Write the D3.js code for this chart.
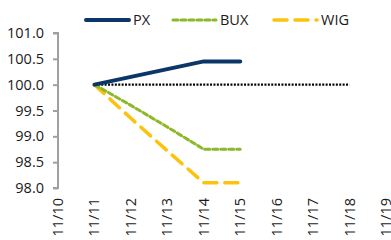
<!DOCTYPE html>
<html>
<head>
<meta charset="utf-8">
<script src="https://d3js.org/d3.v7.min.js"></script>
<style>
  body { margin: 0; background: #fff; }
  text { font-family: "Open Sans", "Liberation Sans", sans-serif; fill: #1a1a1a; }
</style>
</head>
<body>
<div id="chart"></div>
<script>
var dates = ["11/10", "11/11", "11/12", "11/13", "11/14", "11/15", "11/16", "11/17", "11/18", "11/19"];
var yTicks = [98.0, 98.5, 99.0, 99.5, 100.0, 100.5, 101.0];

var pxDates = ["11/11", "11/12", "11/13", "11/14", "11/15"];
var pxValues = [100.0, 100.15, 100.3, 100.45, 100.45];
var buxValues = [100.0, 99.6, 99.18, 98.75, 98.75];
var wigValues = [100.0, 99.35, 98.72, 98.1, 98.1];
var baseDates = ["11/11", "11/12", "11/13", "11/14", "11/15", "11/16", "11/17", "11/18"];
var baseValues = [100, 100, 100, 100, 100, 100, 100, 100];

var width = 391, height = 240;
var svg = d3.select('#chart').append('svg')
    .attr('width', width)
    .attr('height', height);

var x = d3.scalePoint().domain(dates).range([58, 386]);
var y = d3.scaleLinear().domain([98, 101]).range([188, 33]);

// y axis
var yAxis = svg.append('g')
    .attr('transform', 'translate(' + x("11/10") + ',0)')
    .call(d3.axisLeft(y).tickValues(yTicks).tickSize(5).tickPadding(9)
        .tickFormat(d3.format('.1f')));
yAxis.selectAll('.domain, line').attr('stroke', '#a0a0a0').attr('stroke-width', 2);
yAxis.select('.domain').attr('d', 'M-5,' + y(101) + 'H0V' + y(98) + 'H-5');
yAxis.selectAll('text').style('font-size', '14.5px').attr('fill', '#1a1a1a');

// x labels
svg.append('g').selectAll('text')
    .data(dates)
  .enter().append('text')
    .attr('transform', function(d) { return 'translate(' + (x(d) + 5) + ',198) rotate(-90)'; })
    .attr('text-anchor', 'end')
    .style('font-size', '14.5px')
    .text(function(d) { return d; });

var series = [
  {name: 'PX', dates: pxDates, values: pxValues, color: '#0b3668', w: 4, dash: null},
  {name: 'BUX', dates: pxDates, values: buxValues, color: '#8cb82a', w: 3, dash: '5,3'},
  {name: 'WIG', dates: pxDates, values: wigValues, color: '#fdc20c', w: 3.5, dash: '13,8'}
];

var line = d3.line()
    .x(function(d) { return x(d[0]); })
    .y(function(d) { return y(d[1]); });

// baseline dotted
svg.append('path')
    .attr('d', line(d3.zip(baseDates, baseValues)))
    .attr('fill', 'none')
    .attr('stroke', '#000')
    .attr('stroke-width', 2.2)
    .attr('stroke-dasharray', '2,1.4');

series.slice().reverse().forEach(function(s) {
  svg.append('path')
      .attr('d', line(d3.zip(s.dates, s.values)))
      .attr('fill', 'none')
      .attr('stroke', s.color)
      .attr('stroke-width', s.w)
      .attr('stroke-linecap', 'round')
      .attr('stroke-linejoin', 'round')
      .attr('stroke-dasharray', s.dash);
});

// legend
var legendX = [86, 173, 274];
var lg = svg.append('g').selectAll('g')
    .data(series)
  .enter().append('g')
    .attr('transform', function(d, i) { return 'translate(' + legendX[i] + ',20)'; });
lg.append('line')
    .attr('x1', 0).attr('x2', 43)
    .attr('stroke', function(d) { return d.color; })
    .attr('stroke-width', function(d) { return d.w; })
    .attr('stroke-linecap', 'round')
    .attr('stroke-dasharray', function(d) { return d.dash; });
lg.append('text')
    .attr('x', 47)
    .attr('dy', '0.35em')
    .style('font-size', '14.5px')
    .text(function(d) { return d.name; });
</script>
</body>
</html>
